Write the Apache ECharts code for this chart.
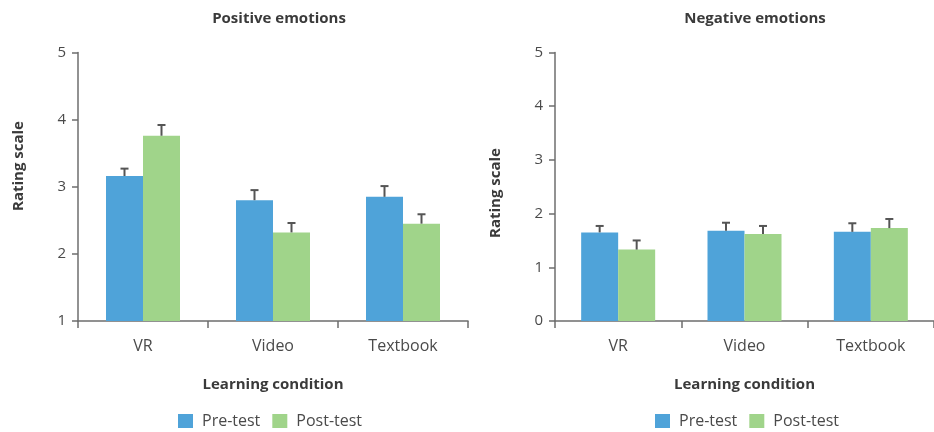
<!DOCTYPE html>
<html>
<head>
<meta charset="utf-8">
<script src="https://cdn.jsdelivr.net/npm/echarts@6/dist/echarts.min.js"></script>
<style>
  html, body { margin: 0; padding: 0; background: #fff; }
  #chart { width: 934px; height: 432px; }
</style>
</head>
<body>
<div id="chart"></div>
<script>
// Learning conditions on the category axis
const categories = ['VR', 'Video', 'Textbook'];
const seriesNames = ['Pre-test', 'Post-test'];

// Positive emotions: mean ratings and upper error (SE)
const posPre = [3.16, 2.80, 2.85];
const posPreErr = [0.11, 0.15, 0.16];
const posPost = [3.76, 2.32, 2.45];
const posPostErr = [0.16, 0.14, 0.14];

// Negative emotions: mean ratings and upper error (SE)
const negPre = [1.65, 1.68, 1.66];
const negPreErr = [0.12, 0.15, 0.16];
const negPost = [1.33, 1.62, 1.73];
const negPostErr = [0.17, 0.15, 0.17];

// Y-axis tick settings per panel
const posAxis = { min: 1, max: 5, interval: 1 };
const negAxis = { min: 0, max: 5, interval: 1 };

const FONT = '"Open Sans", Lato, sans-serif';
const BLUE = '#4fa3d9';
const GREEN = '#a0d48a';
const AXIS = '#6e6e6e';
const TEXT = '#3a3a3a';
const LABEL = '#4a4a4a';
const BAR_W = 37;

const chart = echarts.init(document.getElementById('chart'), null, { renderer: 'canvas' });

function xAxisFor(gridIndex) {
  return {
    type: 'category', gridIndex, data: categories,
    name: 'Learning condition', nameLocation: 'middle', nameGap: 56,
    nameTextStyle: { fontFamily: FONT, fontSize: 15, fontWeight: 'bold', color: TEXT },
    axisLine: { lineStyle: { color: AXIS, width: 1.5 } },
    axisTick: { show: true, length: 7, inside: false, alignWithLabel: false, lineStyle: { color: AXIS, width: 1.5 } },
    axisLabel: { fontFamily: FONT, fontSize: 16, color: LABEL, margin: 17 },
    splitLine: { show: false }
  };
}

function yAxisFor(gridIndex, cfg) {
  return {
    type: 'value', gridIndex, min: cfg.min, max: cfg.max, interval: cfg.interval,
    axisLine: { show: true, lineStyle: { color: AXIS, width: 1.5 } },
    axisTick: { show: true, length: 6, lineStyle: { color: AXIS, width: 1.5 } },
    axisLabel: { fontFamily: FONT, fontSize: 15, color: LABEL, margin: 12 },
    splitLine: { show: false }
  };
}

function barSeries(name, data, color, idx) {
  return {
    type: 'bar', name, data, xAxisIndex: idx, yAxisIndex: idx,
    barWidth: BAR_W, barGap: '0%',
    itemStyle: { color },
    z: 2
  };
}

// Upward-only error whiskers with a short cap
function errorSeries(values, errs, offset, idx) {
  return {
    type: 'custom', xAxisIndex: idx, yAxisIndex: idx, z: 3,
    data: values.map((v, i) => [i, v, v + errs[i]]),
    renderItem: function (params, api) {
      const base = api.coord([api.value(0), api.value(1)]);
      const top = api.coord([api.value(0), api.value(2)]);
      const x = base[0] + offset;
      const style = { stroke: '#555', lineWidth: 2 };
      return {
        type: 'group',
        children: [
          { type: 'line', shape: { x1: x, y1: base[1], x2: x, y2: top[1] }, style },
          { type: 'line', shape: { x1: x - 4, y1: top[1], x2: x + 4, y2: top[1] }, style }
        ]
      };
    }
  };
}

function legendFor(left) {
  return {
    data: seriesNames, left, top: 413, padding: 0, icon: 'rect',
    itemWidth: 15, itemHeight: 14, itemGap: 12,
    textStyle: { fontFamily: FONT, fontSize: 16, color: LABEL, padding: [0, 0, 0, 4] },
    selectedMode: false
  };
}

const option = {
  animation: false,
  title: [
    { text: 'Positive emotions', left: 274, top: 6, textAlign: 'center',
      textStyle: { fontFamily: FONT, fontSize: 15, fontWeight: 'bold', color: TEXT } },
    { text: 'Negative emotions', left: 750, top: 6, textAlign: 'center',
      textStyle: { fontFamily: FONT, fontSize: 15, fontWeight: 'bold', color: TEXT } }
  ],
  grid: [
    { left: 78, top: 52.5, width: 390, height: 268.5, containLabel: false },
    { left: 555, top: 52.5, width: 389, height: 268.5, containLabel: false }
  ],
  xAxis: [xAxisFor(0), xAxisFor(1)],
  yAxis: [yAxisFor(0, posAxis), yAxisFor(1, negAxis)],
  legend: [legendFor(178), legendFor(655)],
  graphic: [
    { type: 'text', x: 19, y: 166, rotation: Math.PI / 2,
      style: { text: 'Rating scale', fontFamily: FONT, fontSize: 15, fontWeight: 'bold', fill: TEXT,
               align: 'center', verticalAlign: 'middle' } },
    { type: 'text', x: 496, y: 193, rotation: Math.PI / 2,
      style: { text: 'Rating scale', fontFamily: FONT, fontSize: 15, fontWeight: 'bold', fill: TEXT,
               align: 'center', verticalAlign: 'middle' } }
  ],
  series: [
    barSeries('Pre-test', posPre, BLUE, 0),
    barSeries('Post-test', posPost, GREEN, 0),
    errorSeries(posPre, posPreErr, -BAR_W / 2, 0),
    errorSeries(posPost, posPostErr, BAR_W / 2, 0),
    barSeries('Pre-test', negPre, BLUE, 1),
    barSeries('Post-test', negPost, GREEN, 1),
    errorSeries(negPre, negPreErr, -BAR_W / 2, 1),
    errorSeries(negPost, negPostErr, BAR_W / 2, 1)
  ]
};

chart.setOption(option);
</script>
</body>
</html>
